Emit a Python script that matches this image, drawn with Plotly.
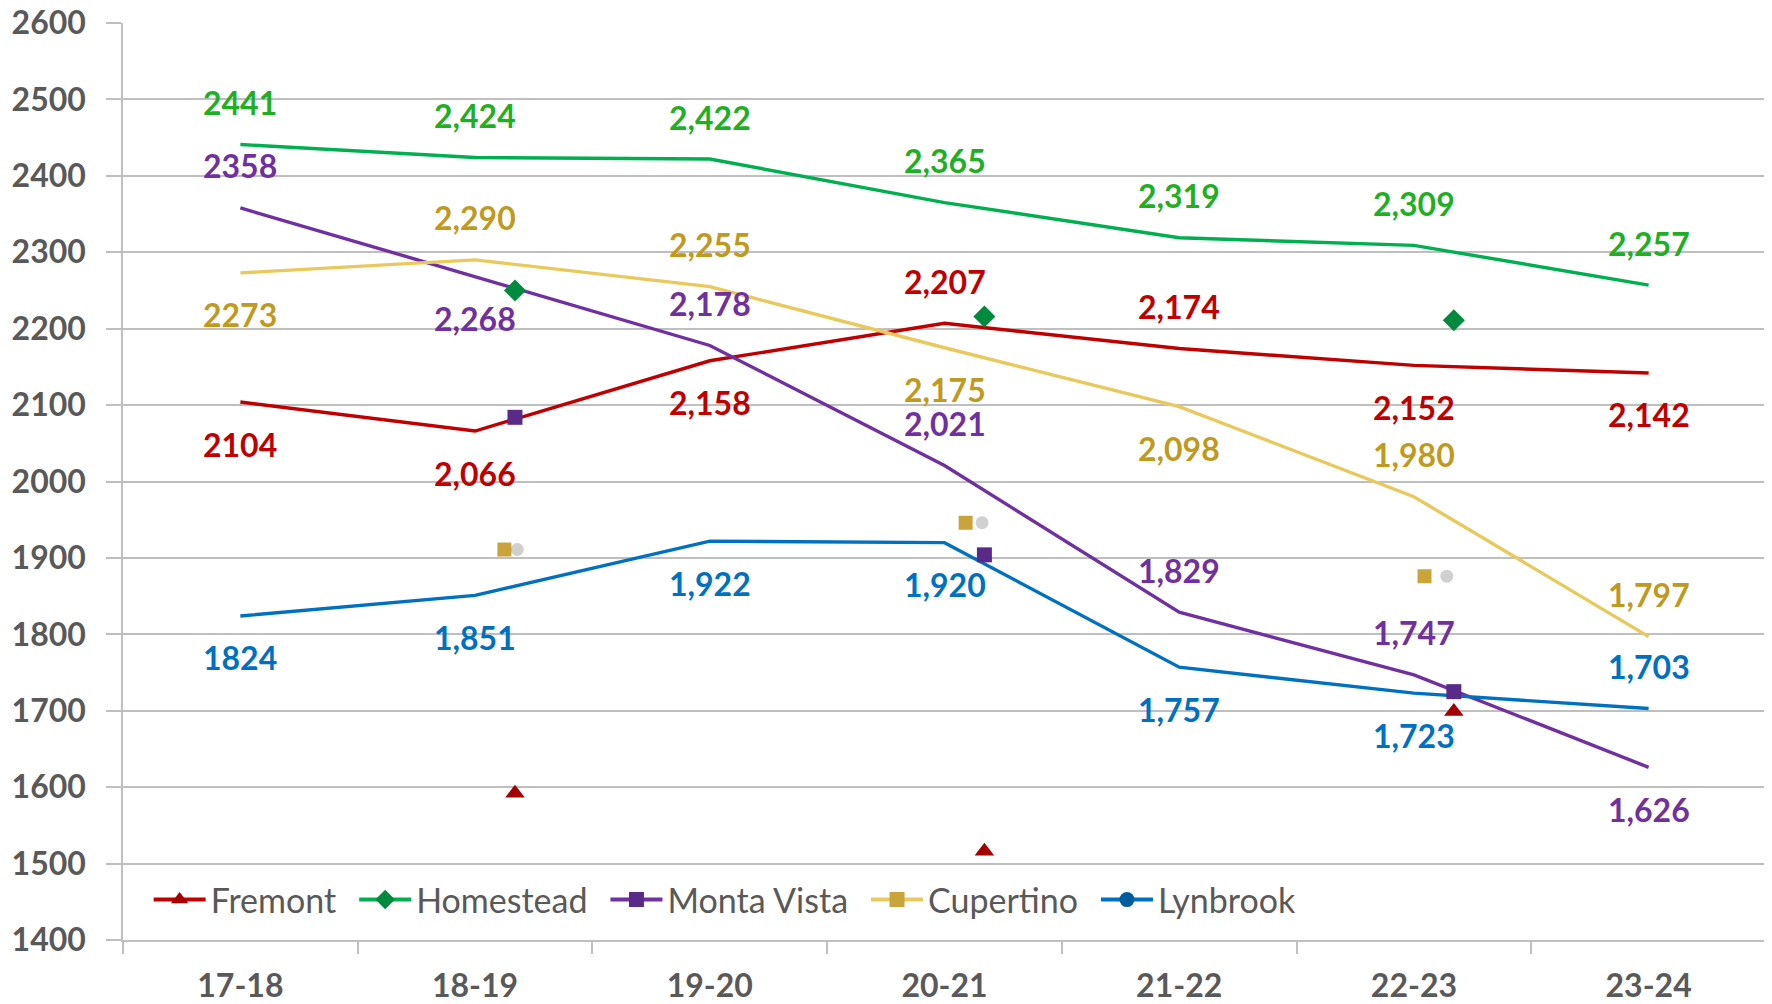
import plotly.graph_objects as go

# ── Data ──────────────────────────────────────────────────────────────────────
YEARS = ["17-18", "18-19", "19-20", "20-21", "21-22", "22-23", "23-24"]

FREMONT     = [2104, 2066, 2158, 2207, 2174, 2152, 2142]
HOMESTEAD   = [2441, 2424, 2422, 2365, 2319, 2309, 2257]
MONTA_VISTA = [2358, 2268, 2178, 2021, 1829, 1747, 1626]
CUPERTINO   = [2273, 2290, 2255, 2175, 2098, 1980, 1797]
LYNBROOK    = [1824, 1851, 1922, 1920, 1757, 1723, 1703]

# stray marker glyphs that float in the original chart (x in category units)
STRAY_X           = [1.17, 3.17, 5.17]
STRAY_X_CUPERTINO = [1.125, 3.09, 5.045]
STRAY_X_SHADOW    = [1.18, 3.16, 5.14]
STRAY_FREMONT     = [1592, 1516, 1699]
STRAY_HOMESTEAD   = [2250, 2216, 2211]
STRAY_MONTA_VISTA = [2084, 1904, 1725]
STRAY_CUPERTINO   = [1911, 1946, 1876]

# ── Style ─────────────────────────────────────────────────────────────────────
FONT  = "Lato"
GREY  = "#595959"
GRID  = "#BFBFBF"

SERIES = [
    # name, values, line colour, label colour, marker symbol, marker colour, label sides
    ("Fremont",     FREMONT,     "#C00000", "#C00000", "triangle-up", "#A30000", [-1, -1, -1, 1, 1, -1, -1]),
    ("Homestead",   HOMESTEAD,   "#00B050", "#1FAF25", "diamond",     "#008A3E", [1, 1, 1, 1, 1, 1, 1]),
    ("Monta Vista", MONTA_VISTA, "#7030A0", "#7030A0", "square",      "#5A2A88", [1, -1, 1, 1, 1, 1, -1]),
    ("Cupertino",   CUPERTINO,   "#E9C85C", "#BF9A1E", "square",      "#C9A43A", [-1, 1, 1, -1, -1, 1, 1]),
    ("Lynbrook",    LYNBROOK,    "#0070C0", "#0070C0", "circle",      "#005C9E", [-1, -1, -1, -1, -1, -1, 1]),
]

STRAYS = [
    (STRAY_X,           STRAY_FREMONT,     "triangle-up", "#A30000", 17),
    (STRAY_X,           STRAY_HOMESTEAD,   "diamond",     "#008A3E", 17),
    (STRAY_X,           STRAY_MONTA_VISTA, "square",      "#5A2A88", 15),
    (STRAY_X_CUPERTINO, STRAY_CUPERTINO,   "square",      "#C9A43A", 14),
]

LABEL_SHIFT = 42
LABEL_SIZE  = 32

fig = go.Figure()
xs = list(range(len(YEARS)))

annotations = []
for name, vals, lc, tc, sym, mc, sides in SERIES:
    fig.add_trace(go.Scatter(
        x=xs, y=vals, name=name, mode="lines",
        line=dict(color=lc, width=3.4),
        showlegend=False, legendgroup=name,
    ))
    for i, (v, s) in enumerate(zip(vals, sides)):
        txt = str(v) if i == 0 else f"{v:,}"
        annotations.append(dict(
            x=i, y=v, text=txt, showarrow=False, yshift=LABEL_SHIFT * s,
            font=dict(family=FONT, size=LABEL_SIZE, color=tc, weight="bold"),
        ))

# soft grey shadows next to the Cupertino glyphs
fig.add_trace(go.Scatter(
    x=STRAY_X_SHADOW, y=STRAY_CUPERTINO, mode="markers", showlegend=False,
    marker=dict(symbol="circle", size=13, color="rgba(150,150,150,0.45)", line=dict(width=0)),
))

for sx, sy, sym, mc, sz in STRAYS:
    fig.add_trace(go.Scatter(
        x=sx, y=sy, mode="markers", showlegend=False,
        marker=dict(symbol=sym, size=sz, color=mc, line=dict(width=0)),
    ))

# legend entries (line + marker); trailing spaces widen the gap between entries
for name, vals, lc, tc, sym, mc, sides in SERIES:
    fig.add_trace(go.Scatter(
        x=[None], y=[None], name=name + "\u00a0\u2009", mode="lines+markers",
        line=dict(color=lc, width=4),
        marker=dict(symbol=sym, size=15, color=mc),
        legendgroup=name,
    ))

# the page body adds an 8px offset, so the figure is 8px smaller than the window
fig.update_layout(
    width=1764, height=996,
    margin=dict(l=115, r=6, t=15, b=64),
    plot_bgcolor="white", paper_bgcolor="white",
    font=dict(family=FONT, color=GREY),
    annotations=annotations,
    legend=dict(
        orientation="h", x=0.0156, y=0.0436, xanchor="left", yanchor="middle",
        font=dict(family=FONT, size=34, color=GREY),
        bgcolor="rgba(0,0,0,0)", itemwidth=52,
    ),
)

fig.update_xaxes(
    range=[-0.5, 6.5], tickvals=xs, ticktext=YEARS,
    showgrid=False, zeroline=False, automargin=False,
    showline=True, linecolor=GRID, linewidth=1.5,
    ticks="", ticklabelstandoff=17, ticklabeloverflow="allow",
    tickfont=dict(family=FONT, size=32, color=GREY, weight="bold"),
    minor=dict(tickvals=[i - 0.5 for i in range(len(YEARS) + 1)],
               ticks="outside", ticklen=12, tickcolor=GRID, tickwidth=1.5, showgrid=False),
)

fig.update_yaxes(
    range=[1400, 2600], dtick=100,
    showgrid=True, gridcolor=GRID, gridwidth=1.5, zeroline=False, automargin=False,
    showline=True, linecolor=GRID, linewidth=1.5,
    ticks="outside", ticklen=15, tickcolor=GRID, tickwidth=1.5,
    ticklabelstandoff=14, ticklabeloverflow="allow",
    tickfont=dict(family=FONT, size=32, color=GREY, weight="bold"),
)

fig.write_html("out.html")
